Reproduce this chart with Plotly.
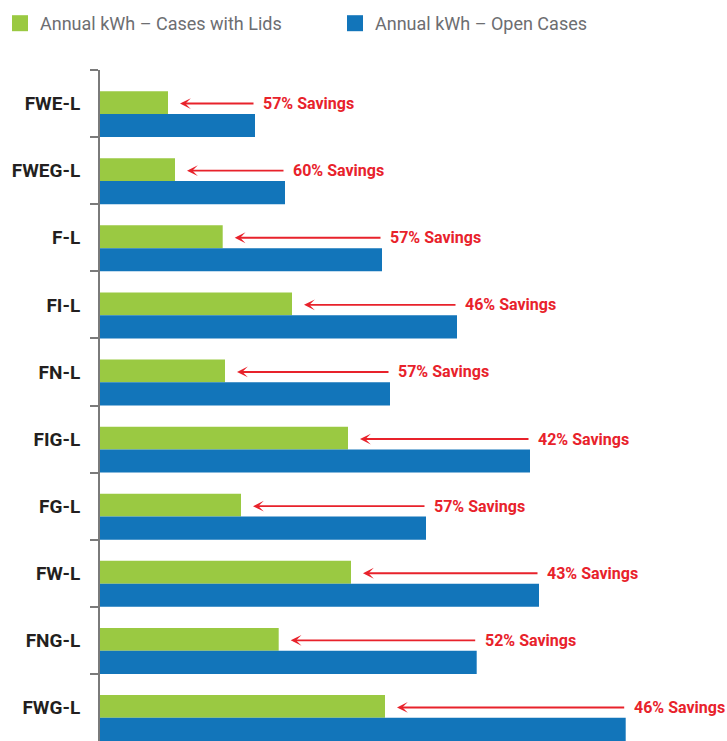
import plotly.graph_objects as go

# ---- data ----
categories = ["FWE-L", "FWEG-L", "F-L", "FI-L", "FN-L", "FIG-L", "FG-L", "FW-L", "FNG-L", "FWG-L"]
kwh_lids = [680, 750, 1227, 1920, 1250, 2480, 1410, 2510, 1787, 2850]
kwh_open = [1550, 1850, 2820, 3570, 2900, 4300, 3260, 4390, 3767, 5257]
savings_pct = [57, 60, 57, 46, 57, 42, 57, 43, 52, 46]

series_names = ["Annual kWh \u2013 Cases with Lids", "Annual kWh \u2013 Open Cases"]
GREEN = "#9AC942"
BLUE = "#1275BA"
RED = "#E8222B"
FONT = "Roboto, Liberation Sans, Arial, sans-serif"

X_MAX = 6270
ARROW_GAP = 120   # distance between lid bar end and arrow tip (x units)
TEXT_GAP = 60     # distance between open bar end and label (x units)

fig = go.Figure()
fig.add_trace(go.Bar(
    y=categories, x=kwh_lids, orientation="h", name=series_names[0],
    marker=dict(color=GREEN, line=dict(width=0)),
    offset=-0.185, width=0.34, showlegend=False,
))
fig.add_trace(go.Bar(
    y=categories, x=kwh_open, orientation="h", name=series_names[1],
    marker=dict(color=BLUE, line=dict(width=0)),
    offset=0.155, width=0.345, showlegend=False,
))
# legend entries (square swatches)
for nm, col in zip(series_names, [GREEN, BLUE]):
    fig.add_trace(go.Scatter(
        x=[None], y=[None], mode="markers", name=nm,
        marker=dict(symbol="square", size=16, color=col), showlegend=True,
    ))

annotations = []
for cat, lid, opn, pct in zip(categories, kwh_lids, kwh_open, savings_pct):
    annotations.append(dict(
        x=lid + ARROW_GAP, y=cat, ax=opn, ay=cat, axref="x", ayref="y",
        xref="x", yref="y", text="", showarrow=True,
        arrowhead=3, arrowsize=0.95, arrowwidth=1.9, arrowcolor=RED, standoff=0,
    ))
    annotations.append(dict(
        x=opn + TEXT_GAP, y=cat, xref="x", yref="y", text=f"{pct}% Savings",
        showarrow=False, xanchor="left", yanchor="middle",
        font=dict(family=FONT, size=16, color=RED, weight="bold"),
    ))

fig.update_layout(
    width=727, height=741,
    margin=dict(l=100, r=0, t=70, b=0, autoexpand=False),
    paper_bgcolor="white", plot_bgcolor="white",
    barmode="overlay",
    annotations=annotations,
    legend=dict(
        orientation="h", x=-100 / 627, xanchor="left", y=1 + 46.5 / 671, yanchor="middle",
        font=dict(family=FONT, size=18, color="#6D6E71"),
        entrywidth=290, entrywidthmode="pixels",
        itemclick=False, bgcolor="rgba(0,0,0,0)",
    ),
    xaxis=dict(
        range=[0, X_MAX], showgrid=False, zeroline=False, showline=False,
        showticklabels=False, ticks="", fixedrange=True, automargin=False,
    ),
    yaxis=dict(
        type="category", categoryorder="array", categoryarray=categories,
        range=[9.5, -0.5], showgrid=False, zeroline=False, automargin=False,
        showline=True, linecolor="#7A7A7A", linewidth=2,
        ticks="outside", ticklen=8, tickwidth=2, tickcolor="#7A7A7A",
        tickson="boundaries", ticklabelstandoff=14,
        tickfont=dict(family=FONT, size=19, color="#231F20", weight="bold"),
    ),
)

fig.write_html(
    "out.html",
    config={"displayModeBar": False},
    post_script="document.body.style.margin='0';document.body.style.overflow='hidden';",
)
